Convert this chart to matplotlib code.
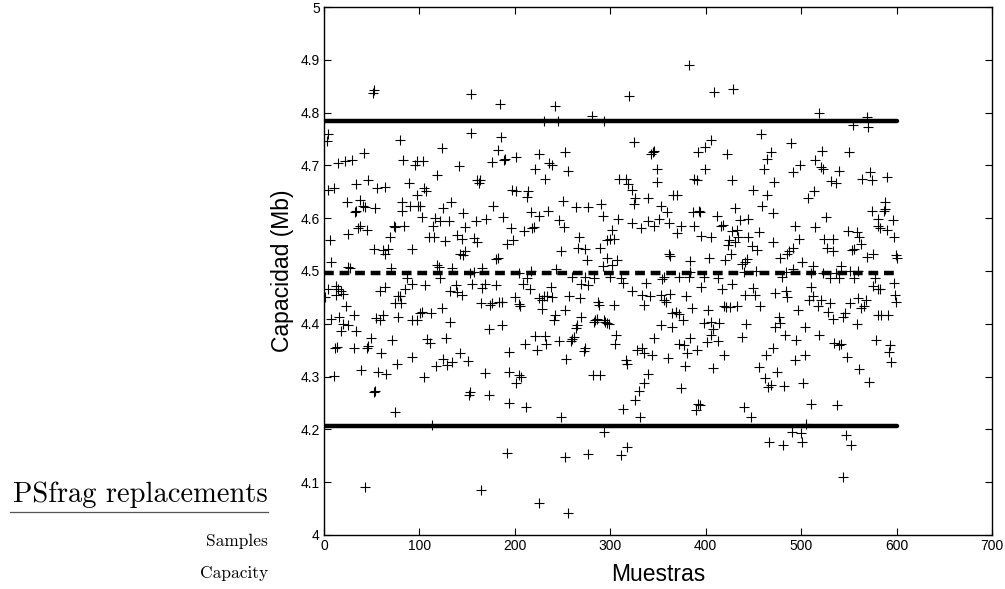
import matplotlib
matplotlib.use("Agg")
import matplotlib.pyplot as plt
from matplotlib.lines import Line2D

# ---- data (sample index, capacity in Mb) ----
seg1_x = [51,52,4,3,80,42,29,22,15,83,95,46,34,56,64,4,10,89,24,38,34,32,41,43,53,82,82,90,25,38,36,45,69,73,74,84,6,52,67,92,7,62,64,25,27,70,4,1,13,15,13,20,18,23,59,64,87,92,85,74,80,81,78,7,16,20,25,18,31,34,54,59,62,78,92,12,14,31,45,46,49,71,60,92,10,39,57,65,76,53,52,74,43]
seg1_y = [4.838,4.843,4.759,4.746,4.749,4.723,4.710,4.708,4.705,4.711,4.700,4.672,4.664,4.657,4.660,4.654,4.657,4.667,4.631,4.634,4.614,4.612,4.624,4.622,4.620,4.631,4.614,4.624,4.570,4.585,4.581,4.578,4.565,4.585,4.583,4.585,4.558,4.542,4.542,4.542,4.517,4.539,4.532,4.507,4.506,4.506,4.466,4.450,4.471,4.465,4.454,4.456,4.463,4.434,4.463,4.469,4.486,4.476,4.466,4.440,4.453,4.440,4.453,4.410,4.413,4.400,4.397,4.387,4.417,4.387,4.411,4.408,4.417,4.413,4.407,4.354,4.356,4.355,4.354,4.357,4.374,4.369,4.344,4.338,4.301,4.313,4.308,4.305,4.324,4.272,4.270,4.232,4.090]

seg2_x = [154,184,154,185,124,182,190,189,176,97,104,141,118,160,163,162,105,107,97,98,101,103,125,133,146,177,188,116,114,122,131,148,159,170,110,115,127,139,145,157,160,192,143,148,146,180,182,118,120,134,166,157,153,106,122,138,132,139,145,155,166,169,180,164,174,176,183,186,101,103,112,97,124,132,173,187,108,111,128,117,125,129,134,143,151,105,169,152,153,173,113,192,164]
seg2_y = [4.836,4.817,4.761,4.753,4.733,4.730,4.713,4.711,4.707,4.709,4.709,4.698,4.682,4.672,4.672,4.667,4.657,4.651,4.643,4.624,4.624,4.603,4.619,4.630,4.610,4.623,4.603,4.601,4.586,4.595,4.595,4.583,4.595,4.599,4.564,4.565,4.557,4.568,4.560,4.562,4.555,4.552,4.533,4.537,4.531,4.522,4.525,4.512,4.507,4.506,4.506,4.498,4.497,4.473,4.486,4.473,4.463,4.461,4.454,4.476,4.468,4.476,4.473,4.440,4.436,4.440,4.441,4.441,4.420,4.423,4.421,4.407,4.430,4.404,4.391,4.397,4.371,4.364,4.374,4.320,4.334,4.322,4.328,4.344,4.329,4.300,4.307,4.265,4.270,4.265,4.208,4.156,4.085]

seg3_x = [242,281,231,245,201,225,253,221,236,239,256,232,197,201,214,213,250,264,277,290,292,217,225,235,246,251,196,210,218,220,198,267,266,274,289,248,276,243,292,204,217,213,260,274,283,269,277,208,216,238,234,231,225,228,239,257,268,200,204,205,228,287,288,253,242,241,269,265,264,284,286,283,294,221,232,211,223,233,246,260,262,259,273,272,194,254,194,204,206,201,282,289,194,212,248,293,252,277,225,256]
seg3_y = [4.812,4.794,4.784,4.784,4.715,4.722,4.725,4.694,4.705,4.700,4.690,4.674,4.654,4.651,4.651,4.641,4.632,4.621,4.621,4.626,4.605,4.611,4.605,4.613,4.597,4.583,4.581,4.575,4.581,4.583,4.558,4.564,4.544,4.542,4.544,4.537,4.520,4.504,4.509,4.496,4.500,4.487,4.489,4.489,4.486,4.476,4.474,4.476,4.465,4.470,4.453,4.453,4.448,4.445,4.450,4.453,4.448,4.450,4.437,4.433,4.428,4.441,4.435,4.427,4.417,4.407,4.413,4.397,4.392,4.407,4.410,4.404,4.404,4.377,4.377,4.362,4.351,4.361,4.367,4.371,4.375,4.367,4.354,4.349,4.346,4.334,4.308,4.303,4.300,4.288,4.303,4.303,4.250,4.243,4.224,4.196,4.148,4.153,4.061,4.041]

seg4_x = [382,320,293,325,345,346,343,392,349,309,316,319,323,349,388,391,326,325,340,366,370,353,359,308,302,323,332,339,346,351,362,370,374,387,393,388,300,297,304,297,302,307,363,362,383,300,311,313,356,354,372,382,384,323,337,333,342,335,353,356,358,363,379,304,386,293,297,299,365,369,372,376,365,353,306,305,346,384,372,377,380,391,328,333,335,344,360,316,318,378,340,335,330,326,374,313,331,392,390,311,318]
seg4_y = [4.891,4.832,4.784,4.744,4.725,4.727,4.722,4.725,4.694,4.674,4.674,4.664,4.654,4.669,4.674,4.672,4.638,4.626,4.638,4.644,4.644,4.624,4.611,4.598,4.577,4.591,4.581,4.595,4.586,4.598,4.591,4.572,4.586,4.612,4.614,4.585,4.560,4.558,4.560,4.525,4.511,4.520,4.529,4.532,4.518,4.489,4.486,4.478,4.489,4.485,4.489,4.489,4.499,4.463,4.478,4.454,4.453,4.436,4.454,4.445,4.441,4.456,4.453,4.436,4.430,4.407,4.401,4.399,4.420,4.423,4.419,4.407,4.394,4.397,4.379,4.361,4.374,4.374,4.361,4.359,4.344,4.351,4.351,4.355,4.344,4.340,4.336,4.331,4.323,4.320,4.305,4.287,4.272,4.255,4.278,4.239,4.224,4.249,4.236,4.151,4.166]

seg5_x = [409,429,405,399,422,399,427,458,468,464,461,489,491,450,472,464,459,471,394,412,431,416,418,436,444,395,406,433,427,434,424,431,423,426,444,456,448,454,471,485,487,491,478,403,420,441,443,398,413,438,440,453,480,484,491,395,417,428,441,449,452,473,484,485,402,419,421,425,433,457,398,405,414,442,477,478,473,408,406,401,413,438,483,419,470,463,408,456,475,462,468,465,482,394,440,447,490,466,481]
seg5_y = [4.839,4.845,4.749,4.735,4.722,4.694,4.672,4.759,4.726,4.713,4.694,4.742,4.687,4.654,4.669,4.643,4.624,4.610,4.612,4.605,4.619,4.585,4.588,4.597,4.598,4.567,4.565,4.578,4.575,4.565,4.558,4.555,4.549,4.532,4.565,4.573,4.547,4.540,4.555,4.533,4.537,4.544,4.524,4.524,4.520,4.517,4.522,4.489,4.486,4.513,4.499,4.500,4.489,4.499,4.504,4.469,4.465,4.476,4.454,4.467,4.454,4.458,4.463,4.450,4.427,4.433,4.432,4.432,4.433,4.433,4.401,4.403,4.401,4.399,4.412,4.401,4.394,4.390,4.379,4.366,4.367,4.375,4.379,4.341,4.354,4.341,4.316,4.318,4.309,4.298,4.285,4.280,4.282,4.247,4.242,4.224,4.195,4.176,4.171]

seg6_x = [519,569,570,554,522,550,515,499,521,523,540,572,574,564,590,531,537,513,507,588,587,588,574,580,596,526,494,514,549,558,581,583,590,597,498,561,563,524,533,527,533,553,555,575,569,599,600,501,512,542,510,523,537,551,560,530,540,555,577,580,575,583,597,598,599,510,512,508,521,518,530,528,533,544,546,551,560,563,566,568,497,558,581,584,591,504,495,519,534,540,542,548,578,593,592,594,494,504,561,502,571,510,538,505,500,501,547,552,544]
seg6_y = [4.799,4.792,4.773,4.776,4.728,4.725,4.711,4.700,4.697,4.693,4.689,4.687,4.672,4.674,4.678,4.670,4.667,4.651,4.638,4.631,4.614,4.618,4.614,4.598,4.597,4.603,4.585,4.583,4.575,4.573,4.586,4.581,4.577,4.564,4.560,4.565,4.552,4.560,4.560,4.544,4.537,4.540,4.541,4.533,4.527,4.531,4.525,4.517,4.509,4.509,4.496,4.496,4.496,4.500,4.500,4.486,4.486,4.486,4.486,4.466,4.471,4.465,4.478,4.454,4.441,4.470,4.453,4.446,4.446,4.433,4.439,4.423,4.410,4.412,4.420,4.440,4.448,4.430,4.433,4.446,4.427,4.400,4.417,4.417,4.417,4.394,4.369,4.379,4.364,4.359,4.362,4.338,4.369,4.359,4.346,4.328,4.331,4.340,4.315,4.288,4.290,4.249,4.247,4.211,4.193,4.176,4.189,4.171,4.110]

line_span = [0, 600]
upper_limit = 4.785
mean_level = 4.497
lower_limit = 4.207

x_ticks = [0, 100, 200, 300, 400, 500, 600, 700]
y_ticks = [4.0, 4.1, 4.2, 4.3, 4.4, 4.5, 4.6, 4.7, 4.8, 4.9, 5.0]
y_tick_labels = ["4", "4.1", "4.2", "4.3", "4.4", "4.5", "4.6", "4.7", "4.8", "4.9", "5"]

xs = seg1_x + seg2_x + seg3_x + seg4_x + seg5_x + seg6_x
ys = seg1_y + seg2_y + seg3_y + seg4_y + seg5_y + seg6_y

plt.rcParams['font.family'] = ['Liberation Sans', 'DejaVu Sans']

fig = plt.figure(figsize=(10.05, 5.89), dpi=100)
ax = fig.add_axes([0.3224, 0.0917, 0.9871 - 0.3224, 0.9881 - 0.0917])

ax.plot(xs, ys, linestyle='none', marker='+', color='black',
        markersize=7.5, markeredgewidth=0.8)
ax.plot(line_span, [upper_limit] * 2, color='black', lw=3.2, solid_capstyle='round')
ax.plot(line_span, [lower_limit] * 2, color='black', lw=3.2, solid_capstyle='round')
ax.plot(line_span, [mean_level] * 2, color='black', lw=3.2, linestyle=(0, (2.2, 1.3)),
        dash_capstyle='butt')

ax.set_xlim(0, 700)
ax.set_ylim(4, 5)
ax.set_xticks(x_ticks)
ax.set_xticklabels([str(t) for t in x_ticks])
ax.set_yticks(y_ticks)
ax.set_yticklabels(y_tick_labels)
ax.tick_params(direction='in', top=True, right=True, length=5, width=0.8,
               labelsize=10, pad=3)
for s in ax.spines.values():
    s.set_linewidth(1.0)

ax.set_xlabel('Muestras', fontsize=16.5, labelpad=7)
ax.set_ylabel('Capacidad (Mb)', fontsize=16.5, labelpad=5)

# PSfrag leftovers on the left
serif = ['cmr10', 'DejaVu Serif']
fig.text(268 / 1005, 1 - 495 / 589, 'PSfrag replacements', ha='right', va='center',
         fontsize=20.5, family=serif)
fig.add_artist(Line2D([10 / 1005, 268 / 1005], [1 - 512 / 589, 1 - 512 / 589],
                      color='#555555', lw=0.9, transform=fig.transFigure))
fig.text(268 / 1005, 1 - 541 / 589, 'Samples', ha='right', va='center',
         fontsize=12.5, family=serif)
fig.text(268 / 1005, 1 - 573 / 589, 'Capacity', ha='right', va='center',
         fontsize=12.5, family=serif)

fig.savefig('out.png', dpi=100)
